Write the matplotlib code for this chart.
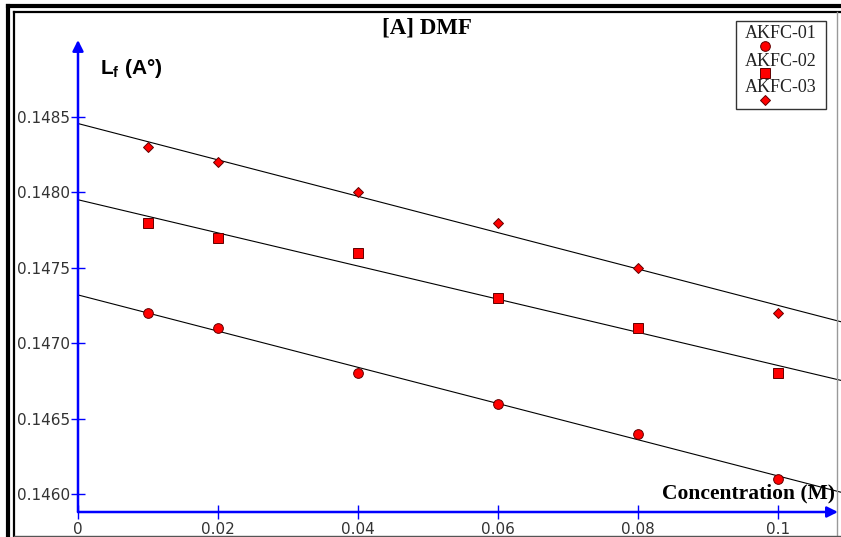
#========================================#
# [A] DMF : Lf vs concentration
#========================================#
import numpy as np
import matplotlib.pyplot as plt
from matplotlib.lines import Line2D
from matplotlib.patches import Rectangle

plt.rcParams['mathtext.fontset'] = 'custom'
plt.rcParams['mathtext.bf'] = 'Liberation Sans:bold'
plt.rcParams['mathtext.rm'] = 'Liberation Sans'

# Data
#========================================#
conc = [0.01, 0.02, 0.04, 0.06, 0.08, 0.10]
lf_01 = [0.1472, 0.1471, 0.1468, 0.1466, 0.1464, 0.1461]
lf_02 = [0.1478, 0.1477, 0.1476, 0.1473, 0.1471, 0.1468]
lf_03 = [0.1483, 0.1482, 0.1480, 0.1478, 0.1475, 0.1472]
names = ["AKFC-01", "AKFC-02", "AKFC-03"]
xticks = [0, 0.02, 0.04, 0.06, 0.08, 0.1]
xticklabels = ["0", "0.02", "0.04", "0.06", "0.08", "0.1"]
yticks = [0.1460, 0.1465, 0.1470, 0.1475, 0.1480, 0.1485]

W, H = 841, 537
fig = plt.figure(figsize=(W / 100, H / 100), dpi=100)
ax = fig.add_axes([78 / W, 25 / H, (W - 78) / W, 472 / H])
ax.set_xlim(0, (W - 78) / 7000)
ax.set_ylim(0.145881, 0.14901)

# Points and fitted lines
#========================================#
styles = [("o", 7), ("s", 7.5), ("D", 5.5)]
xl = np.array([0, 0.12])
for y, (m, ms) in zip([lf_01, lf_02, lf_03], styles):
    k, b = np.polyfit(conc, y, 1)
    ax.plot(xl, k * xl + b, color="black", lw=0.8, zorder=2)
    ax.plot(conc, y, ls="none", marker=m, ms=ms, mfc="red",
            mec="#600000", mew=0.7, zorder=3)

# Axes look
#========================================#
for s in ax.spines.values():
    s.set_visible(False)
ax.set_xticks(xticks)
ax.set_xticklabels(xticklabels)
ax.set_yticks(yticks)
ax.set_yticklabels(["%.4f" % v for v in yticks])
ax.tick_params(direction="inout", length=10, width=1, color="blue",
               labelsize=11, labelcolor="#333333")
ax.tick_params(axis="x", pad=2)
ax.tick_params(axis="y", pad=1)
for t in ax.get_xticklabels() + ax.get_yticklabels():
    t.set_family("DejaVu Sans")

ax.annotate("", xy=(0, 1.0), xytext=(0, 0), xycoords="axes fraction",
            arrowprops=dict(arrowstyle="-|>", color="blue", lw=1.8,
                            mutation_scale=16, shrinkA=0, shrinkB=0),
            annotation_clip=False)
ax.annotate("", xy=(0.996, 0), xytext=(0, 0), xycoords="axes fraction",
            arrowprops=dict(arrowstyle="-|>", color="blue", lw=1.8,
                            mutation_scale=16, shrinkA=0, shrinkB=0),
            annotation_clip=False)

# Texts
#========================================#
fig.text(427 / W, 1 - 28 / H, "[A] DMF", ha="center", va="center",
         family="Liberation Serif", weight="bold", fontsize=16.5)
fig.text(100 / W, 1 - 68 / H, r"$\mathbf{L_f}$ (A°)", ha="left", va="center",
         family="Liberation Sans", weight="bold", fontsize=15)
fig.text(835 / W, 1 - 493 / H, "Concentration (M)", ha="right", va="center",
         family="Liberation Serif", weight="bold", fontsize=15.5)

# Legend box
#========================================#
fig.add_artist(Rectangle((736 / W, 1 - 109 / H), 90 / W, 88 / H,
                         transform=fig.transFigure, fill=False,
                         edgecolor="#333333", lw=1))
for i, (name, (m, ms)) in enumerate(zip(names, styles)):
    ty = 34 + 27 * i
    fig.text(781 / W, 1 - ty / H, name, ha="center", va="center",
             family="Liberation Serif", fontsize=13, color="#222222")
    fig.add_artist(Line2D([765 / W], [1 - (ty + 12) / H], ls="none",
                          marker=m, ms=ms, mfc="red", mec="#600000", mew=0.7,
                          transform=fig.transFigure))

# Frame
#========================================#
def frame(x, y, lw, c="black"):
    fig.add_artist(Line2D(np.array(x) / W, 1 - np.array(y) / H, lw=lw,
                          color=c, transform=fig.transFigure))

frame([8, 8], [5.5, 537], 3)
frame([13.5, 13.5], [11.5, 537], 1.6)
frame([8, 841], [5.5, 5.5], 3)
frame([13.5, 841], [11.5, 11.5], 1.6)
frame([837, 837], [12, 537], 1, "#999999")
frame([13.5, 841], [536, 536], 1, "#555555")

fig.savefig("out.png", dpi=100)
